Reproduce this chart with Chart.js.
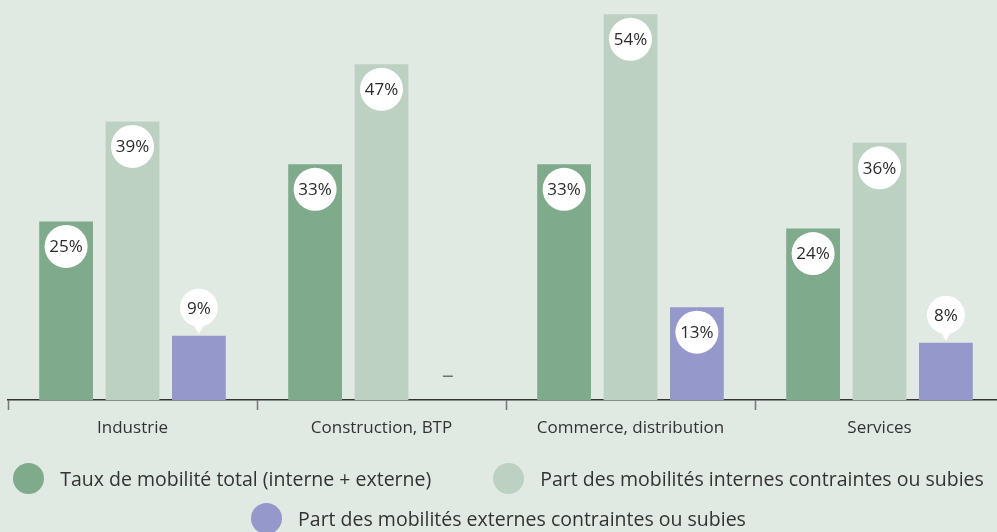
<!DOCTYPE html>
<html>
<head>
<meta charset="utf-8">
<script src="https://cdn.jsdelivr.net/npm/chart.js@4/dist/chart.umd.min.js"></script>
<style>
  html, body { margin: 0; padding: 0; background: #e0e9e2; overflow: hidden; }
  #wrap { position: relative; width: 997px; height: 532px; overflow: hidden; }
  #chart { position: absolute; left: 0; top: 0; }
  .legend-row { position: absolute; left: 0; width: 997px; display: flex; justify-content: center; gap: 62px;
    font-family: "Open Sans", sans-serif; font-size: 19.5px; color: #333; }
  .legend-item { display: flex; align-items: center; white-space: nowrap; }
  .legend-dot { width: 31px; height: 31px; border-radius: 50%; margin-right: 16px; }
</style>
</head>
<body>
<div id="wrap">
  <canvas id="chart" width="1010" height="532"></canvas>
  <div class="legend-row" id="legend-row1" style="top:463px;"></div>
  <div class="legend-row" id="legend-row2" style="top:503px;"></div>
</div>
<script>
// données
const categories = ['Industrie', 'Construction, BTP', 'Commerce, distribution', 'Services'];
const seriesNames = [
    'Taux de mobilité total (interne + externe)',
    'Part des mobilités internes contraintes ou subies',
    'Part des mobilités externes contraintes ou subies'
];
const tauxTotal = [25, 33, 33, 24];
const partInternes = [39, 47, 54, 36];
const partExternes = [9, null, 13, 8];
const colors = ['#80aa8c', '#bdd1c3', '#9598cb'];

const FONT = '"Open Sans", sans-serif';

// étiquettes de valeur dans des pastilles blanches
const valueLabels = {
    id: 'valueLabels',
    afterDatasetsDraw(chart) {
        const ctx = chart.ctx;
        ctx.save();
        chart.data.datasets.forEach((ds, di) => {
            const meta = chart.getDatasetMeta(di);
            meta.data.forEach((bar, i) => {
                const v = ds.data[i];
                const x = bar.x;
                if (v === null || v === undefined) {
                    // valeur manquante : petit tiret
                    ctx.fillStyle = '#707070';
                    ctx.fillRect(x - 5, 375.5, 10, 1.5);
                    return;
                }
                const top = bar.y;
                let cy, r;
                ctx.fillStyle = '#ffffff';
                if (v >= 10) {
                    r = 21.5;
                    cy = top + 25;
                    ctx.beginPath();
                    ctx.arc(x, cy, r, 0, Math.PI * 2);
                    ctx.fill();
                } else {
                    // bulle au-dessus de la barre
                    r = 19;
                    cy = top - 28;
                    ctx.beginPath();
                    ctx.arc(x, cy, r, 0, Math.PI * 2);
                    ctx.fill();
                    ctx.beginPath();
                    ctx.moveTo(x - 6, cy + r - 3);
                    ctx.lineTo(x + 6, cy + r - 3);
                    ctx.lineTo(x, top - 2);
                    ctx.closePath();
                    ctx.fill();
                }
                ctx.fillStyle = '#2b2b2b';
                ctx.font = '17px ' + FONT;
                ctx.textAlign = 'center';
                ctx.textBaseline = 'middle';
                ctx.fillText(v + '%', x, cy + 1);
            });
        });
        ctx.restore();
    }
};

const datasets = [tauxTotal, partInternes, partExternes].map((d, i) => ({
    label: seriesNames[i],
    data: d,
    backgroundColor: colors[i],
    borderWidth: 0,
    categoryPercentage: 0.8,
    barPercentage: 0.81
}));

new Chart(document.getElementById('chart'), {
    type: 'bar',
    data: { labels: categories, datasets: datasets },
    options: {
        responsive: false,
        animation: false,
        layout: { padding: { left: 8, right: 6, top: 0, bottom: 0 } },
        scales: {
            x: {
                afterFit(scale) { scale.height = 132; },
                grid: {
                    offset: true,
                    drawOnChartArea: false,
                    drawTicks: true,
                    tickLength: 10,
                    tickWidth: 1.5,
                    tickColor: '#777'
                },
                border: { display: true, color: '#333', width: 1.5 },
                ticks: {
                    padding: 8,
                    color: '#333',
                    font: { family: FONT, size: 17 }
                }
            },
            y: {
                display: false,
                min: 0,
                max: 56
            }
        },
        plugins: {
            legend: { display: false },
            tooltip: { enabled: false }
        }
    },
    plugins: [valueLabels]
});

// légende
const rows = [document.getElementById('legend-row1'), document.getElementById('legend-row1'), document.getElementById('legend-row2')];
seriesNames.forEach((name, i) => {
    const item = document.createElement('div');
    item.className = 'legend-item';
    const dot = document.createElement('span');
    dot.className = 'legend-dot';
    dot.style.background = colors[i];
    const txt = document.createElement('span');
    txt.textContent = name;
    item.appendChild(dot);
    item.appendChild(txt);
    rows[i].appendChild(item);
});
</script>
</body>
</html>
